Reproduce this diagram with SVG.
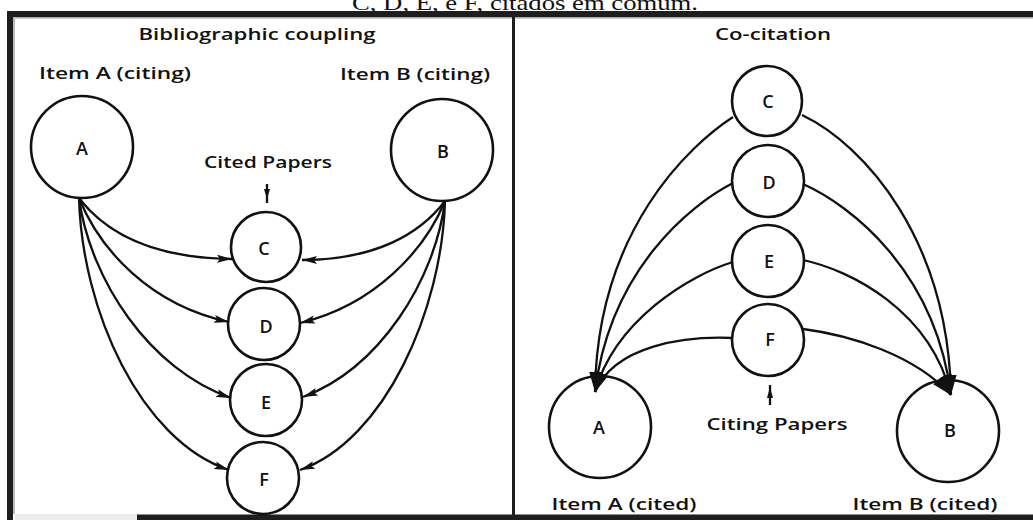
<svg xmlns="http://www.w3.org/2000/svg" width="1033" height="520" viewBox="0 0 1033 520">
<style>
.frame{fill:#1e1e1e}
.node circle{fill:#fff;stroke:#111;stroke-width:2.6}
.lbl{font-family:"Open Sans","Liberation Sans",sans-serif;font-size:18px;font-weight:600;fill:#111;text-anchor:middle}
.txt{font-family:"Open Sans","Liberation Sans",sans-serif;font-size:17px;font-weight:600;fill:#111;text-anchor:middle}
.cap{font-family:"Liberation Serif","Times New Roman",serif;font-size:22px;fill:#111;text-anchor:middle}
.edge{fill:none;stroke:#111;stroke-width:2.3}
.sm{marker-end:url(#ah)}
.bg{marker-end:url(#ahb)}
</style>
<defs>
<marker id="ah" markerUnits="userSpaceOnUse" viewBox="0 0 15 9" refX="15" refY="4.5" markerWidth="15" markerHeight="9" orient="auto">
<path d="M0,0.5 L15,4.5 L0,8.5 L3,4.5 z" fill="#111"/>
</marker>
<marker id="ahb" markerUnits="userSpaceOnUse" viewBox="0 0 20 12" refX="20" refY="6" markerWidth="20" markerHeight="12" orient="auto">
<path d="M0,0 L20,6 L0,12 z" fill="#111"/>
</marker>
</defs>
<rect width="1033" height="520" fill="#fff"/>
<text class="cap" x="525" y="10" textLength="346" lengthAdjust="spacingAndGlyphs">C, D, E, e F, citados em comum.</text>
<g id="frame">
<rect class="frame" x="7" y="11" width="1026" height="6"/>
<rect x="13" y="17" width="1020" height="1.5" fill="#aaa"/>
<rect class="frame" x="7" y="11" width="6" height="509"/>
<rect x="13" y="17" width="2" height="497" fill="#bbb"/>
<rect x="15" y="514" width="122" height="6" fill="#ececec"/>
<rect class="frame" x="137" y="514.5" width="896" height="5.5"/>
<rect class="frame" x="512" y="17" width="3" height="498"/>
</g>
<g id="titles">
<text class="txt" x="257" y="40" textLength="237" lengthAdjust="spacingAndGlyphs">Bibliographic coupling</text>
<text class="txt" x="773" y="40" textLength="116" lengthAdjust="spacingAndGlyphs">Co-citation</text>
<text class="txt" x="115" y="79" textLength="152" lengthAdjust="spacingAndGlyphs">Item A (citing)</text>
<text class="txt" x="415" y="80" textLength="150" lengthAdjust="spacingAndGlyphs">Item B (citing)</text>
<text class="txt" x="268" y="168" textLength="128" lengthAdjust="spacingAndGlyphs">Cited Papers</text>
<text class="txt" x="777" y="430" textLength="141" lengthAdjust="spacingAndGlyphs">Citing Papers</text>
<text class="txt" x="624" y="510" textLength="145" lengthAdjust="spacingAndGlyphs">Item A (cited)</text>
<text class="txt" x="925" y="510" textLength="145" lengthAdjust="spacingAndGlyphs">Item B (cited)</text>
</g>
<g id="node-A1" class="node"><circle cx="82" cy="147" r="51"/><text class="lbl" x="82" y="155">A</text></g>
<g id="node-B1" class="node"><circle cx="442" cy="150" r="51"/><text class="lbl" x="443" y="158">B</text></g>
<g id="node-C1" class="node"><circle cx="266" cy="247" r="35"/><text class="lbl" x="264" y="255">C</text></g>
<g id="node-D1" class="node"><circle cx="264" cy="324" r="36"/><text class="lbl" x="266" y="333">D</text></g>
<g id="node-E1" class="node"><circle cx="266" cy="400" r="36"/><text class="lbl" x="266" y="409">E</text></g>
<g id="node-F1" class="node"><circle cx="263" cy="478" r="36"/><text class="lbl" x="264" y="486">F</text></g>
<g id="node-C2" class="node"><circle cx="767" cy="101" r="35"/><text class="lbl" x="768" y="108">C</text></g>
<g id="node-D2" class="node"><circle cx="768" cy="181" r="36"/><text class="lbl" x="769" y="189">D</text></g>
<g id="node-E2" class="node"><circle cx="768" cy="261" r="36"/><text class="lbl" x="769" y="268">E</text></g>
<g id="node-F2" class="node"><circle cx="768" cy="340" r="36"/><text class="lbl" x="770" y="346">F</text></g>
<g id="node-A2" class="node"><circle cx="600" cy="427" r="51"/><text class="lbl" x="599" y="434">A</text></g>
<g id="node-B2" class="node"><circle cx="948" cy="431" r="51"/><text class="lbl" x="950" y="437">B</text></g>
<g id="connectors">
<path class="edge sm" d="M79,198 C105,232 150,258 232,259"/>
<path class="edge sm" d="M79,198 C100,250 150,305 229,322"/>
<path class="edge sm" d="M79,198 C90,280 150,370 231,398"/>
<path class="edge sm" d="M79,198 C82,310 140,440 229,470"/>
<path class="edge sm" d="M445,201 C420,234 375,260 302,260"/>
<path class="edge sm" d="M445,201 C425,250 375,305 300,323"/>
<path class="edge sm" d="M445,201 C435,280 380,368 303,397"/>
<path class="edge sm" d="M445,201 C442,310 385,440 300,470"/>
<path class="edge bg" d="M733,117 C690,145 597,230 595,392"/>
<path class="edge bg" d="M733,183 C690,205 610,270 595,392"/>
<path class="edge bg" d="M733,262 C690,275 615,320 595,392"/>
<path class="edge bg" d="M733,338 C685,336 615,345 595,392"/>
<path class="edge bg" d="M802,115 C865,145 948,240 951,395"/>
<path class="edge bg" d="M803,184 C850,205 935,270 951,395"/>
<path class="edge bg" d="M803,260 C850,270 930,310 951,395"/>
<path class="edge bg" d="M803,329 C850,335 915,355 951,395"/>
<g id="pointers">
<line class="edge" x1="267" y1="184" x2="267" y2="203" stroke-width="1.6"/>
<path d="M264,189 L270,189 L267,199 z" fill="#111"/>
<line class="edge" x1="770" y1="385" x2="770" y2="405" stroke-width="1.6"/>
<path d="M767,398 L773,398 L770,387 z" fill="#111"/>
</g>
</g>
</svg>
